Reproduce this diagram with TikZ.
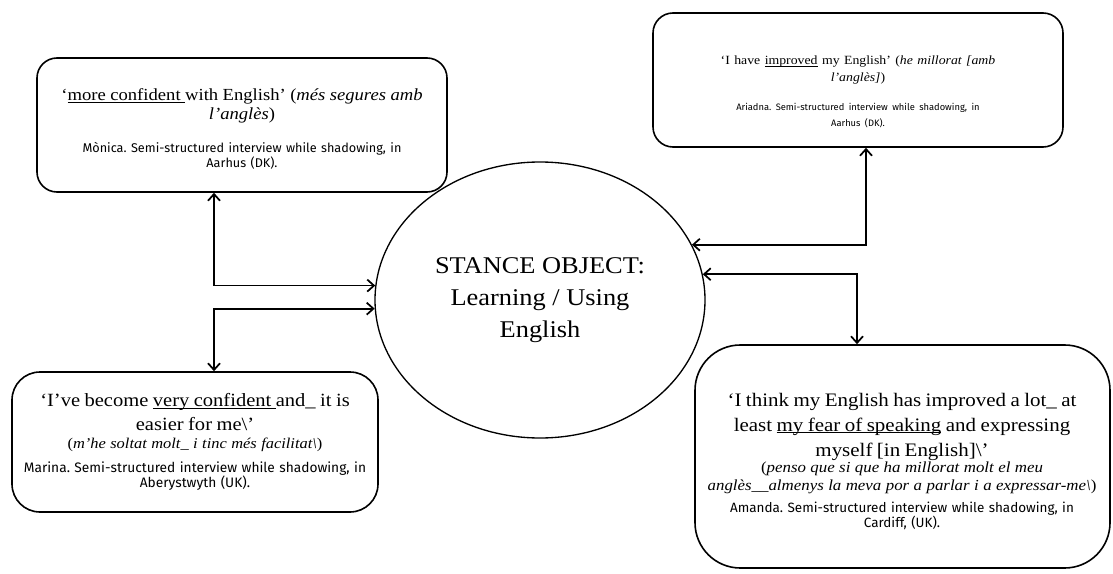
\documentclass[tikz,border=0pt]{standalone}
\usepackage{fontspec}
\setmainfont{Liberation Serif}[FakeStretch=1.1]
\newfontfamily\notefont{Fira Sans}
\usetikzlibrary{arrows.meta,shapes.geometric}
\frenchspacing
\newcommand{\uword}[1]{\leavevmode\setbox0\hbox{#1}\rlap{\rule[-1.8pt]{\wd0}{0.7pt}}\box0\relax}
\tikzset{
  quotebox/.style={draw, line width=1.2pt, rounded corners=#1, inner sep=0pt},
  quotebox/.default=15pt,
  quotetxt/.style={inner sep=0pt, align=center},
  link/.style={<->, line width=1.3pt},
}

\begin{document}
\begin{tikzpicture}[x=0.75pt, y=-0.75pt, >={Straight Barb[length=5pt,width=9pt]}]
			%%%%% START %%%%%
			\useasboundingbox (0,0) rectangle (1113,574);
			
			\node[draw, ellipse, line width=1pt, minimum width=247.5pt, minimum height=207pt, align=center,
			      font=\fontsize{18}{24}\selectfont] (stance) at (540,300) {STANCE OBJECT:\\ Learning / Using\\ English};
			
			\node[quotebox, minimum width=307.5pt, minimum height=100.5pt] (monica) at (242,125) {};
			\node[quotebox, minimum width=307.5pt, minimum height=100.5pt] (ariadna) at (858,80) {};
			\node[quotebox=21pt, minimum width=274.5pt, minimum height=105pt] (marina) at (195,442) {};
			\node[quotebox=34pt, minimum width=311.25pt, minimum height=167.25pt] (amanda) at (902.5,456.5) {};
			
			\node[quotetxt, text width=300pt] (monicatxt) at (242,129) {%
				\fontsize{12.7}{14}\selectfont ‘\uword{more confident }with English’ (\textit{més segures amb}\\\textit{l’anglès})\par
				\vspace{13pt}
				\notefont\fontsize{9.5}{11.5}\selectfont Mònica. Semi-structured interview while shadowing, in\\ Aarhus (DK).\par};
			
			\node[quotetxt, text width=300pt] (ariadnatxt) at (858,91.5) {%
				\fontsize{9.4}{12.5}\selectfont ‘I have \uword{improved} my English’ (\textit{he millorat [amb}\\\textit{l’anglès]})\par
				\vspace{9.75pt}
				\notefont\fontsize{7}{12}\selectfont Ariadna. Semi-structured interview while shadowing, in\\ Aarhus (DK).\par};
			
			\node[quotetxt, text width=270pt] (marinatxt) at (195,442) {%
				\fontsize{14}{18}\selectfont ‘I’ve become \uword{very confident }and\_ it is\\ easier for me\textbackslash’\par
				\fontsize{11.2}{13.5}\selectfont (\textit{m’he soltat molt\_ i tinc més facilitat\textbackslash})\par
				\vspace{6.5pt}
				\notefont\fontsize{10.3}{11.25}\selectfont Marina. Semi-structured interview while shadowing, in\\ Aberystwyth (UK).\par};
			
			\node[quotetxt, text width=305pt] (amandatxt) at (902,461) {%
				\fontsize{14.3}{18.75}\selectfont ‘I think my English has improved a lot\_ at\\ least \uword{my fear of speaking} and expressing\\ myself [in English]\textbackslash’\par
				\fontsize{11.5}{12.75}\selectfont (\textit{penso que si que ha millorat molt el meu}\\\textit{anglès\_\_almenys la meva por a parlar i a expressar-me\textbackslash})\par
				\vspace{5.25pt}
				\notefont\fontsize{10.1}{11.25}\selectfont Amanda. Semi-structured interview while shadowing, in\\ Cardiff, (UK).\par};
			
			% elbow links
			\coordinate (lx) at (214,0);
			\coordinate (rxa) at (866,0);
			\coordinate (rxb) at (857,0);
			\draw[link] (monica.south -| lx) |- (stance.175.8);
			\draw[link] (stance.183.8) -| (marina.north -| lx);
			\draw[link] (ariadna.south -| rxa) |- (stance.20.3);
			\draw[link] (stance.9.1) -| (amanda.north -| rxb);
			%%%%% END %%%%%
\end{tikzpicture}
\end{document}
